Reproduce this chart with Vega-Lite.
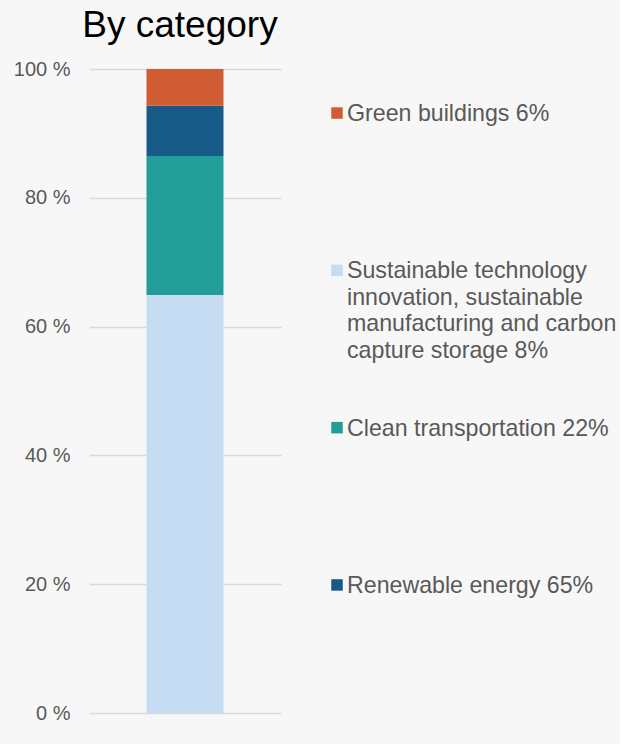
{
  "$schema": "https://vega.github.io/schema/vega-lite/v6.json",
  "background": "#f7f7f7",
  "padding": {"left": 13, "top": 7, "right": 3, "bottom": 30},
  "title": {
    "text": "By category",
    "anchor": "start",
    "fontSize": 37,
    "fontWeight": "normal",
    "font": "Liberation Sans",
    "color": "#000000",
    "offset": 14,
    "dx": 69
  },
  "datasets": {
    "segments": [
      {"category": "Renewable energy", "share": 64.9},
      {"category": "Clean transportation", "share": 21.6},
      {"category": "Sustainable technology innovation, sustainable manufacturing and carbon capture storage", "share": 7.8},
      {"category": "Green buildings", "share": 5.7}
    ],
    "legend": [
      {"label": "Green buildings 6%"},
      {"label": "Sustainable technology\ninnovation, sustainable\nmanufacturing and carbon\ncapture storage 8%"},
      {"label": "Clean transportation 22%"},
      {"label": "Renewable energy 65%"}
    ]
  },
  "spacing": 20,
  "hconcat": [
    {
      "width": 192,
      "height": 644,
      "data": {"name": "segments"},
      "mark": {"type": "bar"},
      "encoding": {
        "x": {"field": "group", "type": "nominal", "axis": null, "scale": {"paddingInner": 0, "paddingOuter": 0.747}},
        "y": {
          "field": "share",
          "type": "quantitative",
          "stack": "zero",
          "scale": {"domain": [0, 100], "nice": false},
          "axis": {
            "title": null,
            "values": [0, 20, 40, 60, 80, 100],
            "labelExpr": "datum.value + ' %'",
            "labelFontSize": 20,
            "labelFont": "Liberation Sans",
            "labelColor": "#595959",
            "labelPadding": 19,
            "ticks": false,
            "domain": false,
            "grid": true,
            "gridColor": "#d9d9d9",
            "gridWidth": 1.5
          }
        },
        "color": {
          "field": "category",
          "type": "nominal",
          "legend": null,
          "scale": {
            "domain": ["Renewable energy", "Clean transportation", "Sustainable technology innovation, sustainable manufacturing and carbon capture storage", "Green buildings"],
            "range": ["#c5dcf2", "#239d97", "#175a87", "#d05c33"]
          }
        },
        "order": {"field": "share", "sort": "descending"}
      }
    },
    {
      "width": 72,
      "height": 560,
      "data": {"name": "legend"},
      "encoding": {
        "y": {"field": "label", "type": "nominal", "sort": null, "axis": null, "scale": {"type": "point", "padding": 0.28}},
        "color": {
          "field": "label",
          "type": "nominal",
          "legend": null,
          "scale": {
            "domain": ["Green buildings 6%", "Sustainable technology\ninnovation, sustainable\nmanufacturing and carbon\ncapture storage 8%", "Clean transportation 22%", "Renewable energy 65%"],
            "range": ["#d05c33", "#c5dcf2", "#239d97", "#175a87"]
          }
        }
      },
      "layer": [
        {"mark": {"type": "point", "shape": "square", "filled": true, "size": 132, "opacity": 1, "strokeWidth": 0}},
        {
          "mark": {"type": "text", "align": "left", "baseline": "alphabetic", "dx": 10, "dy": 8, "lineBreak": "\n", "lineHeight": 26.5, "fontSize": 23.2, "font": "Liberation Sans", "color": "#595959"},
          "encoding": {"text": {"field": "label"}, "color": {"value": "#595959"}}
        }
      ]
    }
  ],
  "resolve": {"scale": {"color": "independent", "y": "independent"}},
  "config": {"view": {"stroke": null}}
}
